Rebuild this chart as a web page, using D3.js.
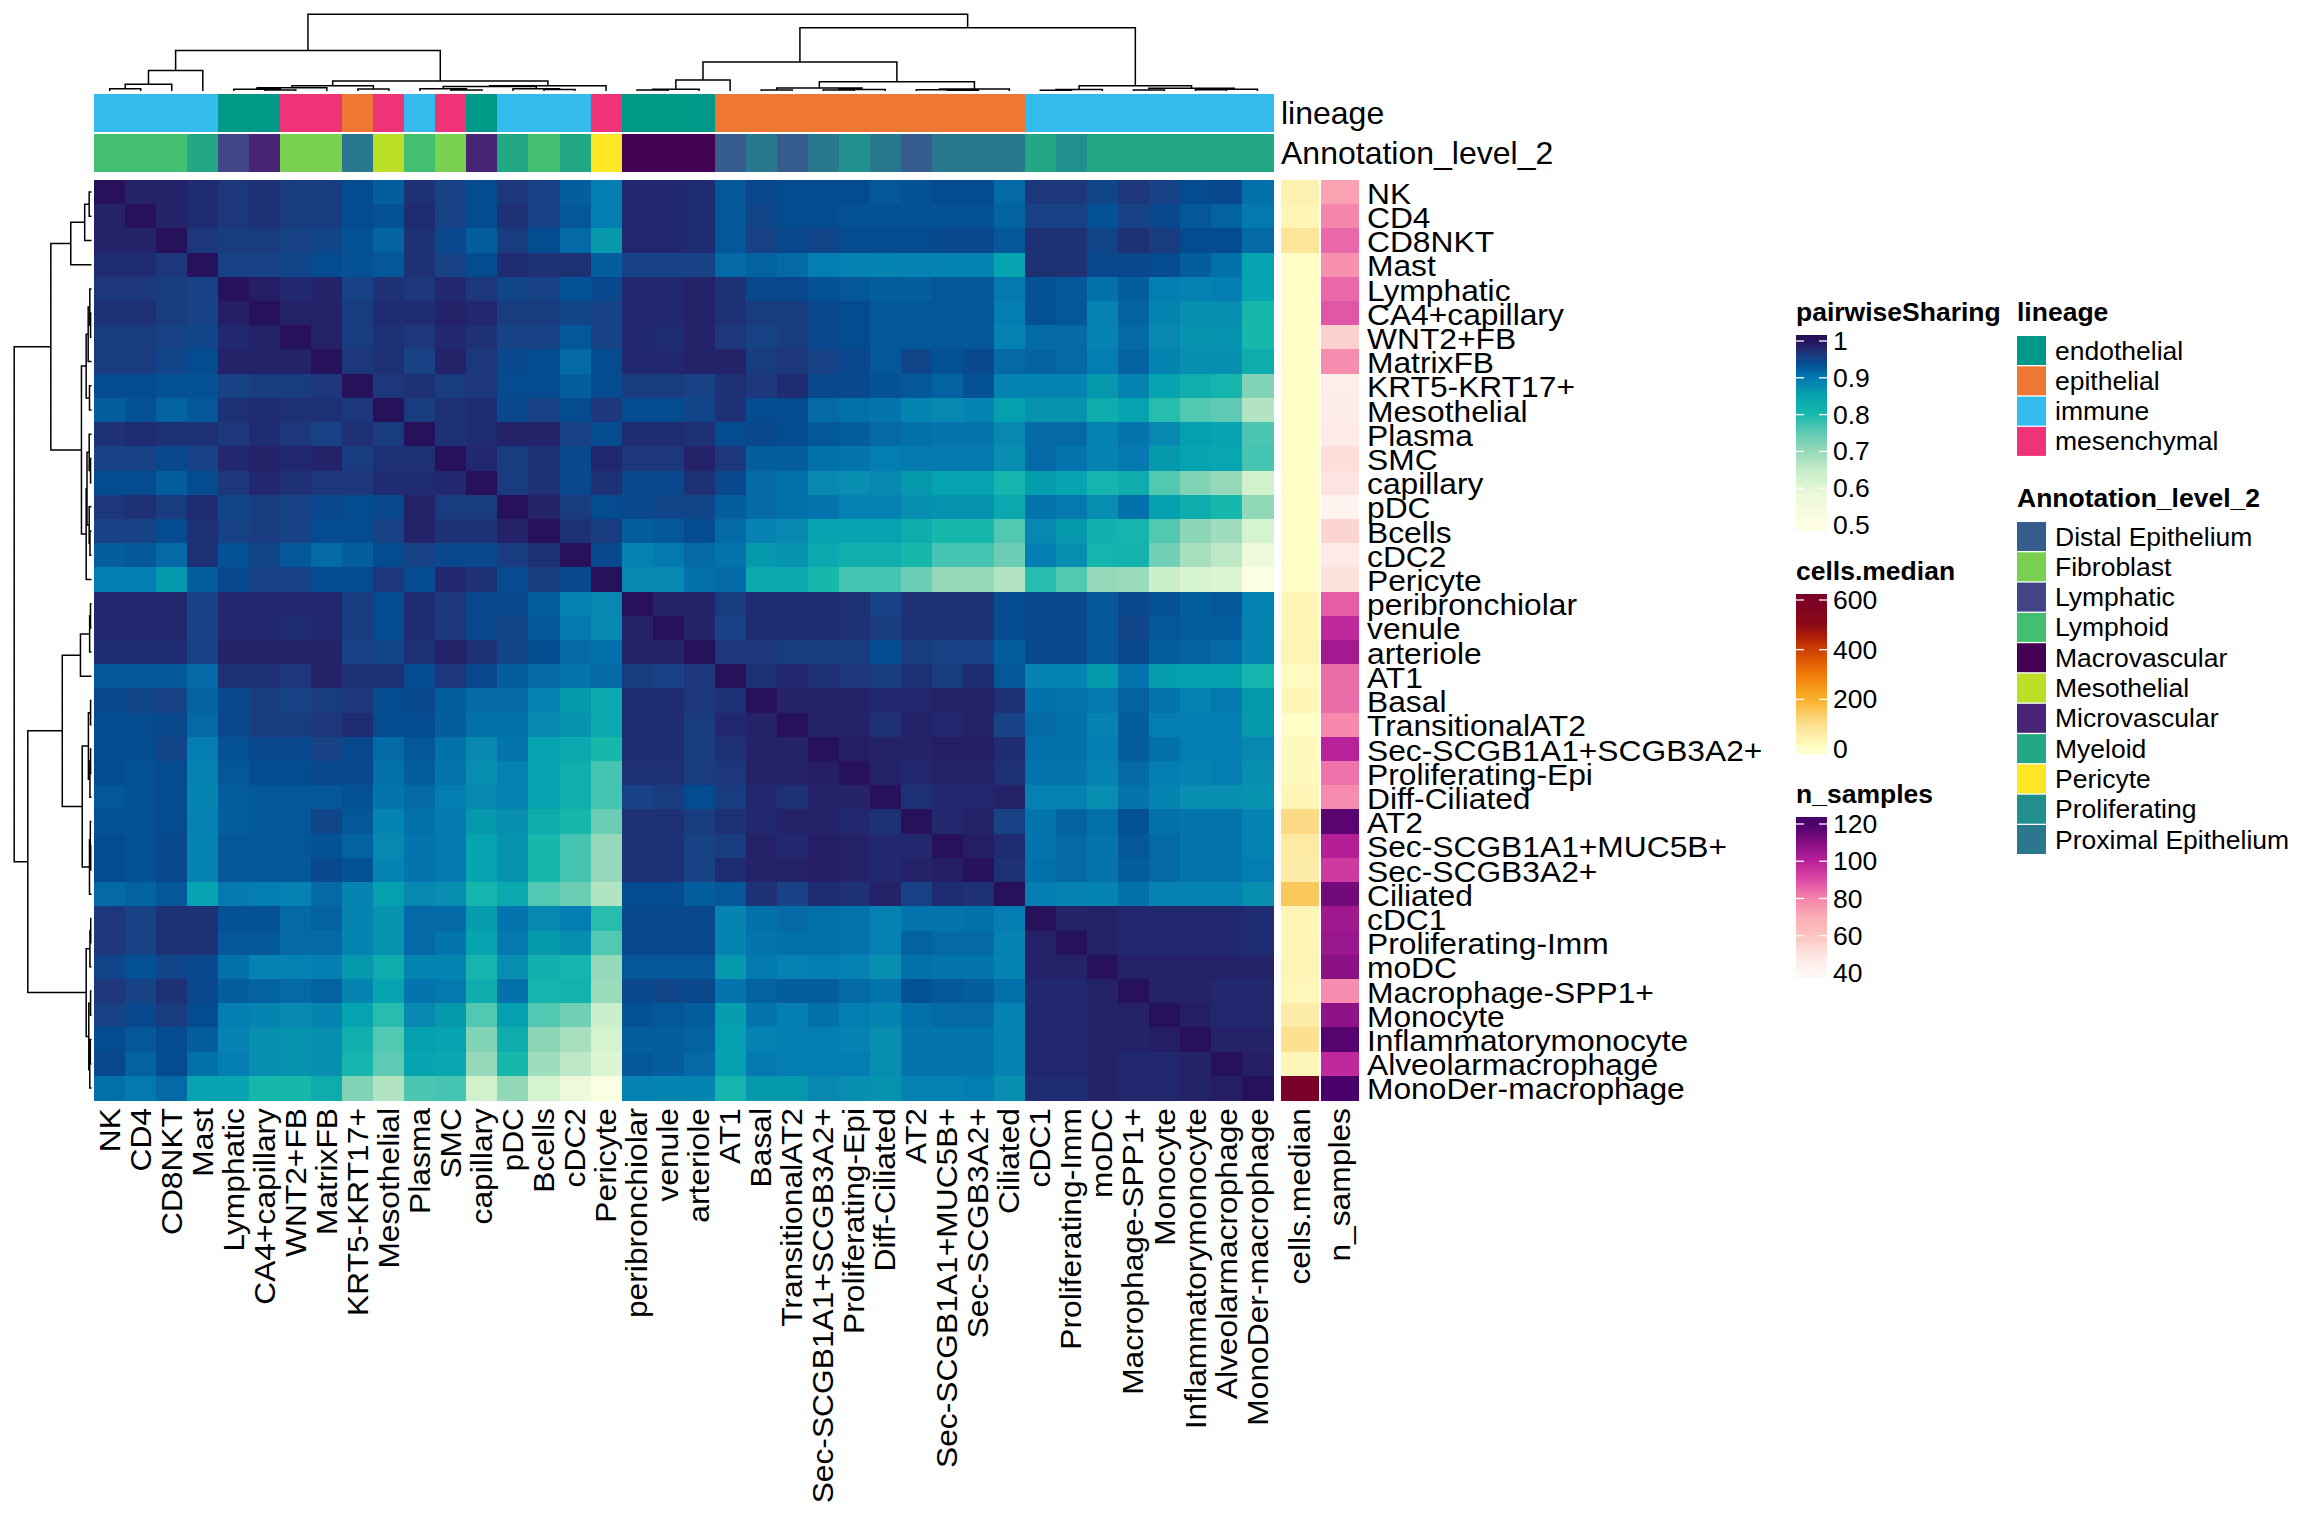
<!DOCTYPE html>
<html><head><meta charset="utf-8">
<script src="https://cdn.jsdelivr.net/npm/d3@7"></script>
<style>html,body{margin:0;background:#fff}svg{display:block}text{font-family:"Liberation Sans",Arial,sans-serif;fill:#000}</style>
</head><body><svg id="c" width="2304" height="1536"></svg>
<script>
const cellTypes=["NK","CD4","CD8NKT","Mast","Lymphatic","CA4+capillary","WNT2+FB","MatrixFB","KRT5-KRT17+","Mesothelial","Plasma","SMC","capillary","pDC","Bcells","cDC2","Pericyte","peribronchiolar","venule","arteriole","AT1","Basal","TransitionalAT2","Sec-SCGB1A1+SCGB3A2+","Proliferating-Epi","Diff-Ciliated","AT2","Sec-SCGB1A1+MUC5B+","Sec-SCGB3A2+","Ciliated","cDC1","Proliferating-Imm","moDC","Macrophage-SPP1+","Monocyte","Inflammatorymonocyte","Alveolarmacrophage","MonoDer-macrophage"];
const lineage=["immune","immune","immune","immune","endothelial","endothelial","mesenchymal","mesenchymal","epithelial","mesenchymal","immune","mesenchymal","endothelial","immune","immune","immune","mesenchymal","endothelial","endothelial","endothelial","epithelial","epithelial","epithelial","epithelial","epithelial","epithelial","epithelial","epithelial","epithelial","epithelial","immune","immune","immune","immune","immune","immune","immune","immune"];
const level2=["Lymphoid","Lymphoid","Lymphoid","Myeloid","Lymphatic","Microvascular","Fibroblast","Fibroblast","Proximal Epithelium","Mesothelial","Lymphoid","Fibroblast","Microvascular","Myeloid","Lymphoid","Myeloid","Pericyte","Macrovascular","Macrovascular","Macrovascular","Distal Epithelium","Proximal Epithelium","Distal Epithelium","Proximal Epithelium","Proliferating","Proximal Epithelium","Distal Epithelium","Proximal Epithelium","Proximal Epithelium","Proximal Epithelium","Myeloid","Proliferating","Myeloid","Myeloid","Myeloid","Myeloid","Myeloid","Myeloid"];
const cellsMedian=[40,32,80,6,6,6,4,4,4,4,4,4,4,5,4,4,4,30,30,35,15,30,4,20,20,30,110,65,55,150,30,32,35,25,55,95,28,600];
const nSamples=[73,80,85,77,85,88,56,78,45,46,47,52,50,42,55,47,51,87,98,104,84,84,79,100,83,78,117,101,94,113,105,106,109,78,108,118,98,120];
// upper triangle of the symmetric sharing matrix, each row starts on the diagonal
const sharingUpper=[
[1,.985,.985,.975,.965,.97,.96,.96,.94,.925,.97,.955,.94,.965,.955,.925,.895,.98,.98,.975,.93,.945,.94,.94,.94,.93,.935,.94,.94,.915,.965,.965,.95,.965,.955,.94,.945,.91],
[1,.985,.975,.965,.97,.96,.96,.94,.935,.975,.955,.94,.97,.955,.93,.895,.98,.98,.975,.93,.95,.94,.94,.935,.935,.935,.935,.935,.92,.955,.955,.935,.955,.945,.93,.92,.9],
[1,.965,.96,.96,.955,.95,.935,.92,.97,.945,.925,.96,.94,.915,.865,.98,.98,.975,.93,.955,.945,.95,.94,.94,.94,.945,.945,.93,.97,.97,.95,.97,.96,.94,.94,.915],
[1,.955,.955,.95,.94,.935,.93,.97,.955,.94,.975,.97,.97,.925,.955,.955,.955,.915,.92,.915,.895,.89,.885,.89,.885,.885,.85,.97,.97,.945,.945,.94,.925,.91,.85],
[1,.99,.98,.985,.955,.97,.965,.98,.965,.95,.955,.935,.945,.98,.98,.985,.97,.945,.945,.935,.93,.925,.925,.93,.93,.9,.935,.93,.91,.925,.895,.89,.895,.85],
[1,.985,.985,.96,.975,.975,.985,.98,.96,.96,.95,.955,.98,.98,.985,.97,.96,.96,.945,.94,.93,.93,.93,.93,.895,.935,.93,.89,.92,.885,.875,.875,.8],
[1,.985,.96,.97,.965,.98,.97,.955,.955,.93,.955,.98,.975,.985,.965,.955,.96,.945,.94,.93,.93,.93,.93,.89,.915,.915,.89,.915,.88,.87,.87,.8],
[1,.965,.97,.955,.985,.965,.945,.94,.915,.94,.98,.98,.985,.985,.96,.965,.955,.945,.93,.95,.935,.945,.915,.92,.915,.895,.92,.885,.875,.875,.83],
[1,.965,.97,.96,.965,.94,.94,.925,.94,.96,.96,.955,.97,.965,.975,.945,.945,.935,.93,.92,.935,.885,.885,.885,.865,.885,.85,.825,.81,.72],
[1,.96,.97,.975,.945,.955,.94,.965,.94,.94,.95,.97,.94,.94,.915,.91,.905,.885,.88,.885,.855,.87,.87,.83,.85,.79,.76,.75,.67],
[1,.97,.975,.985,.985,.955,.94,.975,.975,.97,.94,.945,.94,.93,.925,.915,.91,.905,.905,.88,.915,.915,.885,.905,.88,.855,.85,.765],
[1,.98,.96,.97,.945,.98,.965,.965,.985,.965,.925,.925,.91,.905,.895,.9,.9,.9,.875,.915,.905,.885,.9,.865,.85,.845,.77],
[1,.96,.97,.945,.97,.945,.945,.97,.945,.915,.91,.88,.875,.88,.865,.85,.85,.81,.86,.85,.81,.83,.76,.72,.7,.63],
[1,.985,.96,.94,.945,.95,.95,.925,.915,.91,.905,.89,.89,.875,.87,.87,.84,.905,.9,.875,.91,.855,.83,.8,.705],
[1,.97,.96,.925,.93,.94,.915,.89,.88,.85,.85,.85,.83,.8,.8,.76,.88,.865,.82,.81,.76,.71,.69,.62],
[1,.945,.89,.9,.915,.905,.865,.87,.84,.825,.825,.8,.77,.77,.74,.895,.875,.81,.815,.735,.68,.66,.58],
[1,.88,.88,.91,.915,.84,.84,.8,.77,.77,.74,.7,.7,.67,.79,.76,.7,.695,.64,.62,.61,.51],
[1,.985,.985,.96,.975,.975,.975,.97,.955,.97,.97,.97,.94,.945,.945,.93,.945,.935,.925,.93,.89],
[1,.985,.955,.975,.975,.975,.97,.96,.97,.97,.97,.94,.945,.945,.93,.95,.93,.925,.925,.885],
[1,.965,.965,.96,.96,.96,.94,.96,.955,.955,.925,.945,.945,.93,.945,.925,.92,.915,.885],
[1,.97,.98,.97,.965,.96,.97,.96,.975,.93,.885,.885,.865,.905,.86,.855,.855,.81],
[1,.985,.985,.985,.98,.98,.985,.985,.97,.91,.905,.9,.92,.905,.89,.9,.865],
[1,.985,.985,.97,.985,.98,.985,.955,.915,.91,.89,.925,.895,.895,.895,.865],
[1,.99,.985,.985,.99,.99,.975,.91,.91,.895,.925,.91,.895,.895,.88],
[1,.985,.98,.985,.985,.97,.905,.905,.89,.915,.895,.89,.895,.875],
[1,.97,.98,.98,.985,.89,.89,.875,.905,.885,.875,.875,.87],
[1,.98,.985,.955,.905,.92,.91,.935,.91,.905,.905,.89],
[1,.99,.975,.905,.915,.905,.93,.915,.905,.905,.89],
[1,.97,.91,.915,.905,.925,.915,.905,.905,.895],
[1,.895,.89,.885,.91,.89,.89,.89,.875],
[1,.985,.985,.98,.98,.98,.98,.975],
[1,.985,.98,.98,.98,.98,.975],
[1,.985,.985,.985,.985,.985],
[1,.985,.985,.98,.98],
[1,.99,.98,.98],
[1,.985,.985],
[1,.99],
[1]];
// cluster tree: {h: merge height as a share of the root, c: children}; a number is a leaf index
const N=(h,...c)=>({h,c});
const mergeTree=N(1,
 N(.526,
  N(.268,N(.088,N(.03,0,1),2),3),
  N(.13,
   N(.069,N(.043,N(.022,4,N(.012,5,6)),7),N(.026,8,9)),
   N(.069,N(.058,N(.03,10,N(.012,11,12)),N(.03,13,N(.02,14,15))),16))),
 N(.824,
  N(.378,
   N(.143,N(.024,N(.013,17,18),19),20),
   N(.12,
    N(.04,N(.012,21,22),N(.02,N(.012,23,24),25)),
    N(.026,N(.015,26,N(.01,27,28)),29))),
  N(.069,
   N(.02,N(.01,30,31),32),
   N(.035,N(.012,33,34),N(.022,N(.015,35,36),37)))));
const lineageLevels=["endothelial","epithelial","immune","mesenchymal"];
const lineageColors=["#009988","#EE7733","#33BBEE","#EE3377"];
const level2Levels=["Distal Epithelium","Fibroblast","Lymphatic","Lymphoid","Macrovascular","Mesothelial","Microvascular","Myeloid","Pericyte","Proliferating","Proximal Epithelium"];
const level2Colors=["#365C8D","#7AD151","#414487","#43BF71","#440154","#BBDF27","#472476","#22A884","#FDE725","#218F8D","#2A788E"];
const shareTicks=[1,.9,.8,.7,.6,.5], medianTicks=[600,400,200,0], sampleTicks=[120,100,80,60,40];

const sharingColor=d3.scaleLinear().domain([.5,.58,.62,.65,.68,.71,.74,.77,.8,.825,.85,.865,.88,.895,.91,.925,.94,.955,.97,.985,1])
 .range(["#feffe2","#eef9da","#d6f3d0","#c6ecc8","#a8e0bf","#8cd6b7","#6bcdb4","#45c4b1","#17b8ac","#11aeae","#05a4b0","#0699ae","#0788b1","#047db2","#0270ab","#045d9e","#044b90","#174286","#1e3175","#24236a","#26115a"]).clamp(true);
const medianColor=d3.scaleLinear().domain([0,100,200,300,400,450,500,600]).range(["#ffffc8","#fddf8f","#f9b12a","#f07c08","#cf3f02","#b01f05","#8c0a14","#7a0027"]).clamp(true);
const samplesColor=d3.scaleLinear().domain([40,50,60,70,80,90,100,110,120]).range(["#fff7f3","#fde4e0","#fcc5c0","#fbadb5","#f685ac","#dd4aa5","#b9219a","#850e82","#49006a"]).clamp(true);
const lineageColor=d3.scaleOrdinal(lineageLevels,lineageColors), level2Color=d3.scaleOrdinal(level2Levels,level2Colors);

const svg=d3.select("#c");
const n=cellTypes.length, idx=d3.range(n);
const x=d3.scaleBand(idx,[94.2,1273]), y=d3.scaleBand(idx,[180,1100]);
const labelSize=29.5, labelStretch=1.077, legendSize=26.5;
const matrix=idx.map(()=>new Array(n));
sharingUpper.forEach((row,i)=>row.forEach((v,k)=>{matrix[i][i+k]=v;matrix[i+k][i]=v;}));

// heat cells
svg.append("g").attr("shape-rendering","crispEdges").selectAll("g").data(matrix).join("g").selectAll("rect")
 .data((row,i)=>row.map((v,j)=>({i,j,v}))).join("rect")
 .attr("x",d=>x(d.j)).attr("y",d=>y(d.i)).attr("width",x.bandwidth()+.5).attr("height",y.bandwidth()+.5).attr("fill",d=>sharingColor(d.v));

// top annotations
const annTop=[{vals:lineage,color:lineageColor,y0:94,y1:131.7,name:"lineage"},{vals:level2,color:level2Color,y0:134,y1:171.6,name:"Annotation_level_2"}];
annTop.forEach(a=>{
 svg.append("g").attr("shape-rendering","crispEdges").selectAll("rect").data(a.vals).join("rect")
  .attr("x",(d,i)=>x(i)).attr("y",a.y0).attr("width",x.bandwidth()+.5).attr("height",a.y1-a.y0).attr("fill",d=>a.color(d));
 svg.append("text").attr("x",1281).attr("y",(a.y0+a.y1)/2+.5).attr("dominant-baseline","central").attr("font-size",32).text(a.name);
});

// side annotations
const side=[{vals:cellsMedian,color:medianColor,x0:1281,x1:1319,name:"cells.median"},{vals:nSamples,color:samplesColor,x0:1321,x1:1359,name:"n_samples"}];
side.forEach(s=>{
 svg.append("g").attr("shape-rendering","crispEdges").selectAll("rect").data(s.vals).join("rect")
  .attr("x",s.x0).attr("y",(d,i)=>y(i)).attr("width",s.x1-s.x0).attr("height",y.bandwidth()+.5).attr("fill",d=>s.color(d));
 colLabel((s.x0+s.x1)/2,s.name);
});

function colLabel(cx,t){
 svg.append("text").attr("transform",`translate(${cx-.5},1108) rotate(-90) scale(${labelStretch},1)`)
  .attr("text-anchor","end").attr("dominant-baseline","central").attr("font-size",labelSize).text(t);
}
cellTypes.forEach((t,i)=>{
 colLabel(x(i)+x.bandwidth()/2,t);
 svg.append("text").attr("transform",`translate(1367,${y(i)+y.bandwidth()/2+1}) scale(${labelStretch},1)`)
  .attr("dominant-baseline","central").attr("font-size",labelSize).text(t);
});

// dendrograms, same tree on both margins
const root=d3.hierarchy(mergeTree,d=>typeof d==="number"?null:d.c);
const height=d=>typeof d.data==="number"?0:d.data.h;
const place=(d,pos)=>{d.pos=d.children?d3.mean(d.children,c=>place(c,pos)):pos(d.data);return d.pos;};
place(root,i=>x(i)+x.bandwidth()/2);
const topH=d3.scaleLinear([0,1],[91,14.2]);
const topPaths=root.descendants().filter(d=>d.children).map(d=>{
 const [a,b]=d.children,v=topH(height(d));
 return `M${a.pos},${topH(height(a))}V${v}H${b.pos}V${topH(height(b))}`;});
svg.append("path").attr("d",topPaths.join("")).attr("fill","none").attr("stroke","#000").attr("stroke-width",1.5);
place(root,i=>y(i)+y.bandwidth()/2);
const leftH=d3.scaleLinear([0,1],[91.5,14.2]);
const leftPaths=root.descendants().filter(d=>d.children).map(d=>{
 const [a,b]=d.children,v=leftH(height(d));
 return `M${leftH(height(a))},${a.pos}H${v}V${b.pos}H${leftH(height(b))}`;});
svg.append("path").attr("d",leftPaths.join("")).attr("fill","none").attr("stroke","#000").attr("stroke-width",1.5);

// colour bars
let gid=0;
function colorBar(title,titleY,bar0,bar1,scale,ticks,tickPos){
 const id="g"+(gid++);
 const pos=d3.scaleLinear(tickPos[0],tickPos[1]);
 const grad=svg.append("defs").append("linearGradient").attr("id",id).attr("x1",0).attr("x2",0).attr("y1",0).attr("y2",1);
 d3.range(41).forEach(k=>{const t=k/40;grad.append("stop").attr("offset",t).attr("stop-color",scale(pos.invert(bar0+t*(bar1-bar0))));});
 svg.append("text").attr("x",1796).attr("y",titleY).attr("font-size",legendSize).attr("font-weight","bold").text(title);
 svg.append("rect").attr("x",1796).attr("y",bar0).attr("width",31).attr("height",bar1-bar0).attr("fill",`url(#${id})`);
 ticks.forEach(t=>{
  const p=pos(t);
  [[1796,1804],[1819,1827]].forEach(([a,b])=>svg.append("line").attr("x1",a).attr("x2",b).attr("y1",p).attr("y2",p).attr("stroke","#fff").attr("stroke-width",1.3));
  svg.append("text").attr("x",1833).attr("y",p).attr("dominant-baseline","central").attr("font-size",legendSize).text(t);
 });
}
colorBar("pairwiseSharing",320.5,335,531,sharingColor,shareTicks,[[.5,1],[525,341]]);
colorBar("cells.median",579.5,594,754,medianColor,medianTicks,[[0,600],[749,600]]);
colorBar("n_samples",802.5,817,978,samplesColor,sampleTicks,[[40,120],[973,824]]);

// discrete legends
function discrete(title,titleY,top,levels,colors){
 svg.append("text").attr("x",2017).attr("y",titleY).attr("font-size",legendSize).attr("font-weight","bold").text(title);
 const pos=d3.scaleBand(levels,[top,top+levels.length*30.3]);
 levels.forEach((l,i)=>{
  svg.append("rect").attr("x",2017).attr("y",pos(l)).attr("width",29).attr("height",29).attr("fill",colors[i]);
  svg.append("text").attr("x",2055).attr("y",pos(l)+14.5).attr("dominant-baseline","central").attr("font-size",legendSize).text(l);
 });
}
discrete("lineage",320.5,336,lineageLevels,lineageColors);
discrete("Annotation_level_2",507,522,level2Levels,level2Colors);
</script></body></html>
